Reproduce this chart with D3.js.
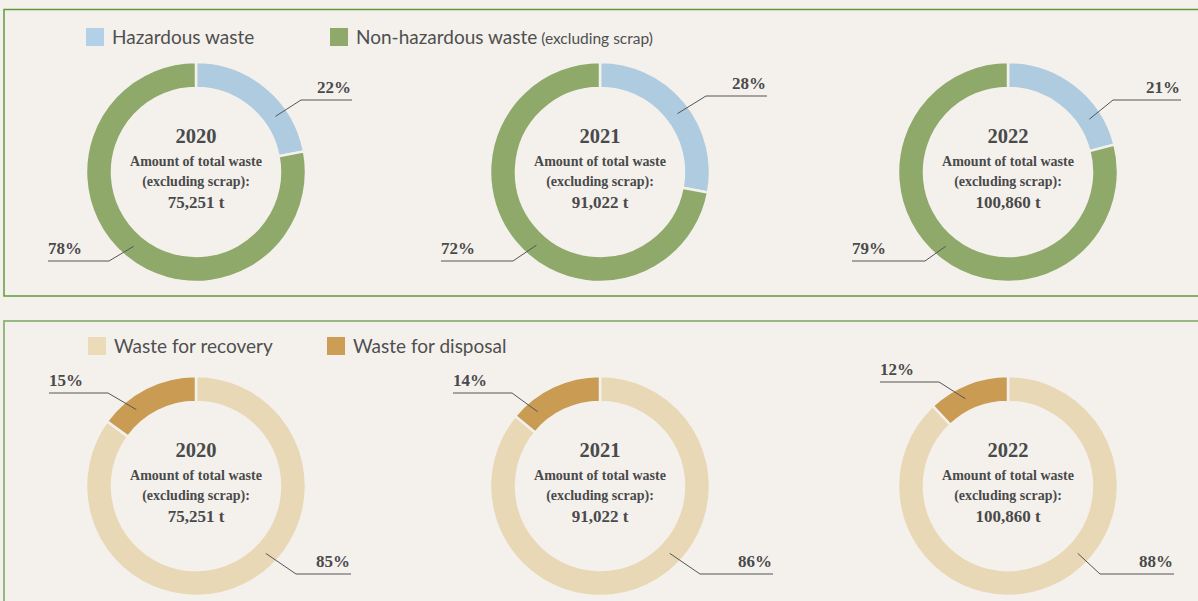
<!DOCTYPE html>
<html lang="en">
<head>
<meta charset="utf-8">
<title>Waste donuts</title>
<style>
  body { margin: 0; background: #f4f1ed; }
  svg { display: block; }
  .legend text { font-family: Lato, "Open Sans", sans-serif; fill: #4f4f4f; }
  .center text, .pct { font-family: "Liberation Serif", "DejaVu Serif", serif; font-weight: bold; fill: #4a4a4a; }
  .leader { fill: none; stroke: #555; stroke-width: 1; }
</style>
</head>
<body>
<svg width="1198" height="601"></svg>
<script src="https://d3js.org/d3.v7.min.js"></script>
<script>
// ---- data ----
var years = ["2020", "2021", "2022"];
var totals = ["75,251 t", "91,022 t", "100,860 t"];
var hazardous = [22, 28, 21];
var nonHazardous = [78, 72, 79];
var recovery = [85, 86, 88];
var disposal = [15, 14, 12];

var svg = d3.select("svg");

// panels
svg.append("rect").attr("x", 4).attr("y", 9.5).attr("width", 1210).attr("height", 286.5)
  .attr("fill", "none").attr("stroke", "#5f9a3c").attr("stroke-width", 1.5);
svg.append("rect").attr("x", 4).attr("y", 321).attr("width", 1210).attr("height", 300)
  .attr("fill", "none").attr("stroke", "#8fb274").attr("stroke-width", 1.8);

var centersX = [196, 600, 1008];
var rowY = [172, 486];
var outerR = 110, innerR = 84;

var arc = d3.arc().innerRadius(innerR).outerRadius(outerR);
var pie = d3.pie().sort(null).value(function (d) { return d; });

// leader layout per row / column: angle of the start point (deg), elbow, line y, end x (relative to centre)
var labelLayout = {
  top: {
    small: [{a: 55, ex: 105, ly: -72, end: 156}, {a: 53, ex: 106, ly: -76, end: 167}, {a: 57, ex: 105, ly: -72, end: 173}],
    big:   [{a: 220, ex: -87, ly: 89, end: -148}, {a: 221, ex: -87, ly: 89, end: -159}, {a: 220, ex: -83, ly: 89, end: -156}]
  },
  bottom: {
    small: [{a: -38, ex: -88, ly: -93, end: -147}, {a: -40, ex: -88, ly: -93, end: -147}, {a: -26, ex: -69, ly: -104, end: -128}],
    big:   [{a: 134, ex: 100, ly: 88, end: 155}, {a: 134, ex: 100, ly: 88, end: 173}, {a: 134, ex: 92, ly: 88, end: 166}]
  }
};

function drawLabel(g, cx, cy, spec, text) {
  var p = d3.pointRadial(spec.a * Math.PI / 180, 97);
  var pts = [[cx + p[0], cy + p[1]], [cx + spec.ex, cy + spec.ly], [cx + spec.end, cy + spec.ly]];
  g.append("path").attr("class", "leader").attr("d", d3.line()(pts));
  var right = spec.end > 0;
  g.append("text").attr("class", "pct")
    .attr("x", cx + spec.end + (right ? -1 : 0))
    .attr("y", cy + spec.ly - 7)
    .attr("text-anchor", right ? "end" : "start")
    .attr("font-size", 17)
    .text(text + "%");
}

function drawDonut(i, row, values, colors, small) {
  var cx = centersX[i], cy = rowY[row];
  var g = svg.append("g");
  g.append("g").attr("transform", "translate(" + cx + "," + cy + ")")
    .selectAll("path").data(pie(values)).enter().append("path")
    .attr("d", arc)
    .attr("fill", function (d, k) { return colors[k]; })
    .attr("stroke", "#f4f1ed").attr("stroke-width", 2.5);

  var c = g.append("g").attr("class", "center").attr("text-anchor", "middle");
  c.append("text").attr("x", cx).attr("y", cy - 29).attr("font-size", 20.5).text(years[i]);
  c.append("text").attr("x", cx).attr("y", cy - 6).attr("font-size", 14).text("Amount of total waste");
  c.append("text").attr("x", cx).attr("y", cy + 14).attr("font-size", 14).text("(excluding scrap):");
  c.append("text").attr("x", cx).attr("y", cy + 36).attr("font-size", 17).text(totals[i]);

  var lay = row === 0 ? labelLayout.top : labelLayout.bottom;
  drawLabel(g, cx, cy, lay.small[i], small[0]);
  drawLabel(g, cx, cy, lay.big[i], small[1]);
}

var topColors = ["#aecbe0", "#8fa96a"];
var botColors = ["#e8d8b6", "#c99b53"];

years.forEach(function (y, i) {
  drawDonut(i, 0, [hazardous[i], nonHazardous[i]], topColors, [hazardous[i], nonHazardous[i]]);
  drawDonut(i, 1, [recovery[i], disposal[i]], botColors, [disposal[i], recovery[i]]);
});

// legends
function legend(x, y, color, label, extra) {
  var g = svg.append("g").attr("class", "legend");
  g.append("rect").attr("x", x).attr("y", y).attr("width", 18).attr("height", 18).attr("fill", color);
  var t = g.append("text").attr("x", x + 26).attr("y", y + 16).attr("font-size", 19).text(label);
  if (extra) t.append("tspan").attr("font-size", 15.5).text(" " + extra);
}
legend(86, 28, "#b3d0e9", "Hazardous waste");
legend(330, 28, "#8fa96a", "Non-hazardous waste", "(excluding scrap)");
legend(88, 337, "#ebdbb8", "Waste for recovery");
legend(327, 337, "#cc9d55", "Waste for disposal");
</script>
</body>
</html>
